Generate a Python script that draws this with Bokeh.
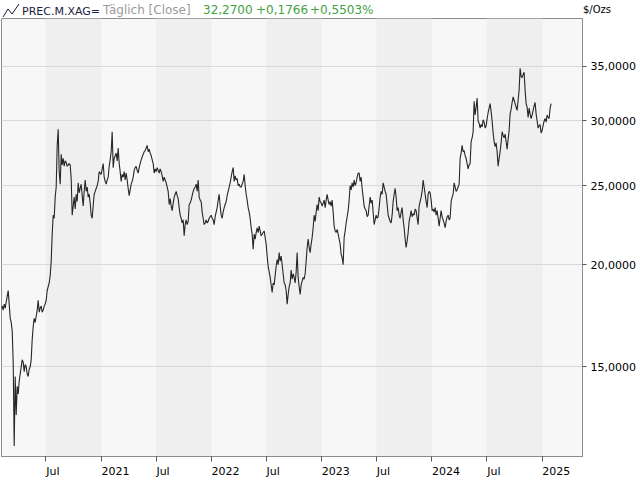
import pandas as pd
from bokeh.plotting import figure
from bokeh.models import Range1d, FixedTicker, BoxAnnotation, Div
from bokeh.layouts import column
from bokeh.embed import file_html
from bokeh.resources import INLINE

# ---- data (silver, $/oz) ----
start_date = "2020-02-04"
end_date = "2025-01-30"
closes = [
    17.7, 17.8, 17.6, 17.9, 17.7, 18.0, 18.3, 18.6, 17.9, 17.2,
    17.0, 16.6, 15.2, 12.0, 14.6, 13.1, 14.2, 13.9, 14.4, 14.7,
    15.0, 15.3, 15.2, 14.8, 15.1, 15.0, 14.7, 14.6, 14.9, 15.0,
    15.3, 16.2, 16.8, 17.2, 17.0, 17.3, 17.6, 18.1, 17.5, 17.7,
    17.8, 17.5, 17.6, 17.8, 17.9, 18.1, 18.6, 18.8, 19.0, 19.4,
    20.2, 21.8, 23.0, 22.8, 24.2, 24.9, 28.0, 29.3, 26.0, 25.1,
    27.3, 26.5, 27.0, 26.4, 26.8, 26.7, 26.4, 26.5, 26.6, 26.5,
    25.5, 23.0, 23.6, 24.2, 23.4, 24.4, 23.9, 25.2, 24.5, 24.8,
    25.1, 24.3, 23.6, 24.6, 25.4, 24.6, 24.9, 24.2, 24.4, 23.8,
    23.0, 22.8, 23.6, 24.4, 24.6, 24.8, 25.0, 25.3, 26.0, 25.9,
    25.8, 26.2, 26.6, 25.6, 25.3, 25.1, 25.4, 25.6, 26.4, 26.9,
    27.5, 29.1, 26.3, 27.0, 27.2, 27.4, 26.8, 27.8, 26.6, 26.0,
    25.3, 25.8, 25.6, 26.0, 25.4, 25.9, 25.4, 24.8, 24.3, 24.7,
    25.1, 25.3, 25.6, 26.1, 26.3, 26.4, 26.1, 25.9, 26.3, 26.6,
    26.9, 27.1, 27.3, 27.5, 27.6, 27.8, 28.0, 27.5, 27.7, 27.4,
    27.2, 26.9, 26.6, 25.9, 26.2, 26.0, 26.3, 26.1, 25.9, 26.2,
    26.0, 25.7, 25.3, 25.6, 25.4, 25.2, 24.9, 24.6, 23.7, 24.1,
    23.6, 23.3, 23.8, 24.2, 24.4, 24.6, 24.3, 24.1, 23.5, 23.0,
    22.8, 22.5, 22.7, 21.7, 22.4, 22.7, 22.4, 22.6, 23.7, 23.8,
    24.0, 24.3, 24.6, 24.8, 24.9, 25.1, 24.6, 25.4, 24.2, 24.0,
    23.9, 23.2, 22.8, 22.4, 22.5, 22.7, 22.5, 22.6, 22.8, 22.9,
    23.0, 22.8, 22.7, 22.4, 22.9, 23.2, 23.5, 24.0, 24.4, 23.6,
    23.0, 22.8, 23.2, 23.5, 23.7, 23.9, 24.3, 24.6, 24.9, 25.2,
    25.6, 26.0, 26.3, 25.3, 25.7, 25.4, 25.5, 25.0, 25.1, 24.9,
    24.9, 25.1, 25.3, 25.8, 25.0, 24.4, 24.0, 23.5, 23.2, 22.8,
    22.2, 21.8, 20.9, 21.8, 21.5, 21.9, 22.2, 21.9, 22.3, 22.0,
    21.7, 21.8, 21.9, 22.0, 21.6, 21.2, 20.5, 19.9, 19.6, 19.3,
    18.9, 18.5, 19.0, 18.9, 19.4, 19.9, 20.3, 20.0, 20.7, 20.2,
    20.5, 20.0, 19.5, 19.0, 18.9, 18.6, 17.9, 18.4, 18.8, 19.0,
    19.7, 19.2, 19.5, 19.3, 19.0, 19.6, 20.7, 19.3, 18.8, 18.4,
    18.9, 19.1, 19.3, 19.2, 19.5, 20.2, 21.0, 21.5, 21.0, 20.7,
    21.2, 21.6, 22.2, 23.0, 22.6, 23.2, 23.7, 23.3, 24.2, 23.9,
    23.8, 23.6, 23.8, 24.0, 23.5, 24.0, 24.4, 24.0, 23.7, 23.9,
    23.6, 24.0, 23.2, 22.3, 22.0, 21.9, 22.1, 21.8, 21.5, 21.2,
    20.6, 20.4, 20.0, 21.6, 22.0, 22.5, 22.9, 23.3, 24.0, 25.0,
    24.7, 25.2, 24.9, 25.4, 25.0, 25.2, 25.6, 25.9, 25.9, 25.3,
    25.6, 24.8, 24.2, 23.6, 23.4, 23.3, 22.9, 23.0, 23.6, 24.2,
    23.8, 24.0, 23.2, 22.4, 22.7, 23.0, 22.8, 22.9, 23.5, 24.2,
    24.6, 24.4, 25.2, 24.9, 24.6, 24.4, 23.7, 23.0, 22.8, 22.6,
    22.5, 23.0, 23.9, 24.4, 24.8, 24.2, 23.3, 23.5, 23.0, 22.8,
    23.2, 23.5, 22.7, 22.2, 21.5, 21.0, 21.4, 21.9, 22.6, 22.9,
    23.3, 22.9, 23.1, 23.0, 23.4, 23.3, 22.8, 22.4, 23.6, 23.9,
    24.2, 24.6, 25.4, 24.9, 24.4, 23.9, 23.5, 24.4, 24.6, 24.5,
    24.0, 23.3, 23.4, 23.2, 23.5, 23.0, 23.3, 22.8, 22.3, 22.8,
    23.3, 22.9, 22.7, 22.5, 22.2, 22.6, 22.9, 23.0, 22.7, 22.8,
    23.9, 24.2, 24.4, 25.2, 24.9, 24.6, 24.7, 24.9, 25.1, 27.0,
    27.4, 28.0, 27.5, 27.6, 27.2, 27.0, 26.6, 26.2, 26.5, 26.6,
    28.3, 28.6, 29.1, 31.7, 30.5, 31.2, 32.0, 30.0, 29.8, 29.4,
    29.7, 29.5, 30.1, 29.9, 29.4, 29.6, 30.2, 30.7, 31.1, 31.5,
    30.8, 30.0, 29.0, 28.3, 27.9, 28.2, 27.5, 26.4, 27.0, 27.5,
    28.2, 29.1, 28.8, 28.6, 28.9, 28.3, 27.7, 28.5, 29.2, 30.6,
    31.0, 31.6, 32.1, 31.8, 31.5, 31.2, 30.9, 31.8, 32.7, 34.8,
    34.0, 33.9, 34.2, 34.4, 32.7, 31.5, 31.2, 30.3, 31.1, 30.6,
    30.2, 30.5, 30.9, 31.3, 31.6, 30.6, 30.0, 29.4, 29.6, 29.7,
    29.0, 29.2, 29.6, 30.0, 30.2, 29.9, 30.5, 30.3, 30.2, 31.1,
    31.5,
]

x_tick_dates = ["2020-07-01", "2021-01-01", "2021-07-01", "2022-01-01", "2022-07-01",
                "2023-01-01", "2023-07-01", "2024-01-01", "2024-07-01", "2025-01-01"]
x_tick_labels = ["Jul", "2021", "Jul", "2022", "Jul", "2023", "Jul", "2024", "Jul", "2025"]
y_ticks = [15, 20, 25, 30, 35]
y_tick_labels = ["15,0000", "20,0000", "25,0000", "30,0000", "35,0000"]
band_starts = ["2020-07-01", "2021-07-01", "2022-07-01", "2023-07-01", "2024-07-01"]
band_ends = ["2021-01-01", "2022-01-01", "2023-01-01", "2024-01-01", "2025-01-01"]
view_start, view_end = "2020-02-05", "2025-05-14"
y_min, y_max = 11.65, 40.04

symbol = "PREC.M.XAG="
mode = "Täglich [Close]"
last_close = "32,2700"
change_abs = "+0,1766"
change_pct = "+0,5503%"
unit = "$/Ozs"

FONT = "DejaVu Sans"

# ---- header (HTML text above the chart) ----
def span(text, left, color, size=11, top=5):
    return (f'<span style="position:absolute;left:{left}px;top:{top}px;'
            f'font-family:\'{FONT}\';font-size:{size}px;line-height:13px;'
            f'color:{color};white-space:nowrap;">{text}</span>')

icon = ('<svg style="position:absolute;left:0px;top:0px" width="24" height="20">'
        '<polyline points="3,17 8,9 12,14 19,4" fill="none" stroke="#1c1c40" '
        'stroke-width="1"/></svg>')
header_html = (
    '<div style="position:relative;width:640px;height:18px;background:white;">'
    + icon
    + span(symbol, 22, "#1c1c40")
    + span(mode, 103, "#9a9a9a", size=12, top=4)
    + span(last_close, 203, "#3fa33f", size=12, top=4)
    + span(change_abs, 256, "#3fa33f", size=12, top=4)
    + span(change_pct, 310, "#3fa33f", size=12, top=4)
    + span(unit, 583, "#000000", size=10, top=3)
    + '</div>'
)
header = Div(text=header_html, width=640, height=18, margin=0)

# ---- figure ----
dates = pd.date_range(start_date, end_date, periods=len(closes))

p = figure(width=640, height=462, x_axis_type="datetime", y_axis_type="log",
           y_axis_location="right", title=None, toolbar_location=None,
           output_backend="svg",
           x_range=Range1d(pd.Timestamp(view_start), pd.Timestamp(view_end)),
           y_range=Range1d(y_min, y_max),
           min_border_left=1, min_border_right=58, min_border_top=0, min_border_bottom=22)
p.margin = 0

p.background_fill_color = "#f7f7f7"
p.border_fill_color = "white"
p.outline_line_color = "#8c8c8c"

for s, e in zip(band_starts, band_ends):
    p.add_layout(BoxAnnotation(left=pd.Timestamp(s), right=pd.Timestamp(e),
                               fill_color="#efefef", fill_alpha=1.0,
                               line_color=None, level="image"))

p.line(dates, closes, line_color="#262626", line_width=1.1)

# y axis (right, log)
yt = FixedTicker(ticks=y_ticks)
p.yaxis.ticker = yt
p.ygrid.ticker = yt
p.yaxis.major_label_overrides = dict(zip(y_ticks, y_tick_labels))
p.yaxis.axis_line_color = "#8c8c8c"
p.yaxis.major_tick_line_color = "#555555"
p.yaxis.major_tick_in = 0
p.yaxis.major_tick_out = 4
p.yaxis.minor_tick_line_color = None
p.yaxis.major_label_standoff = 4
p.yaxis.major_label_text_font = FONT
p.yaxis.major_label_text_font_size = "11px"
p.yaxis.major_label_text_color = "#000000"
p.ygrid.grid_line_color = "#d9d9d9"
p.xgrid.visible = False

# x axis (bottom): labels start at their tick (left-aligned look), so each
# centred label is led by figure spaces as wide as the label itself
FIG_SPACE = "\u2007"
def lead(lab):
    return FIG_SPACE * (len(lab) if lab[0].isdigit() else 2) + lab

x_ms = [float(pd.Timestamp(d).value // 10**6) for d in x_tick_dates]
p.xaxis.ticker = FixedTicker(ticks=x_ms)
p.xaxis.major_label_overrides = {ms: lead(lab) for ms, lab in zip(x_ms, x_tick_labels)}
p.xaxis.axis_line_color = "#8c8c8c"
p.xaxis.major_tick_line_color = "#555555"
p.xaxis.major_tick_in = 0
p.xaxis.major_tick_out = 5
p.xaxis.minor_tick_line_color = None
p.xaxis.major_label_standoff = 3
p.xaxis.major_label_text_font = FONT
p.xaxis.major_label_text_font_size = "11px"
p.xaxis.major_label_text_color = "#000000"

layout = column(header, p, spacing=0)
layout.margin = 0

open("out.html", "w").write(file_html(layout, INLINE))
